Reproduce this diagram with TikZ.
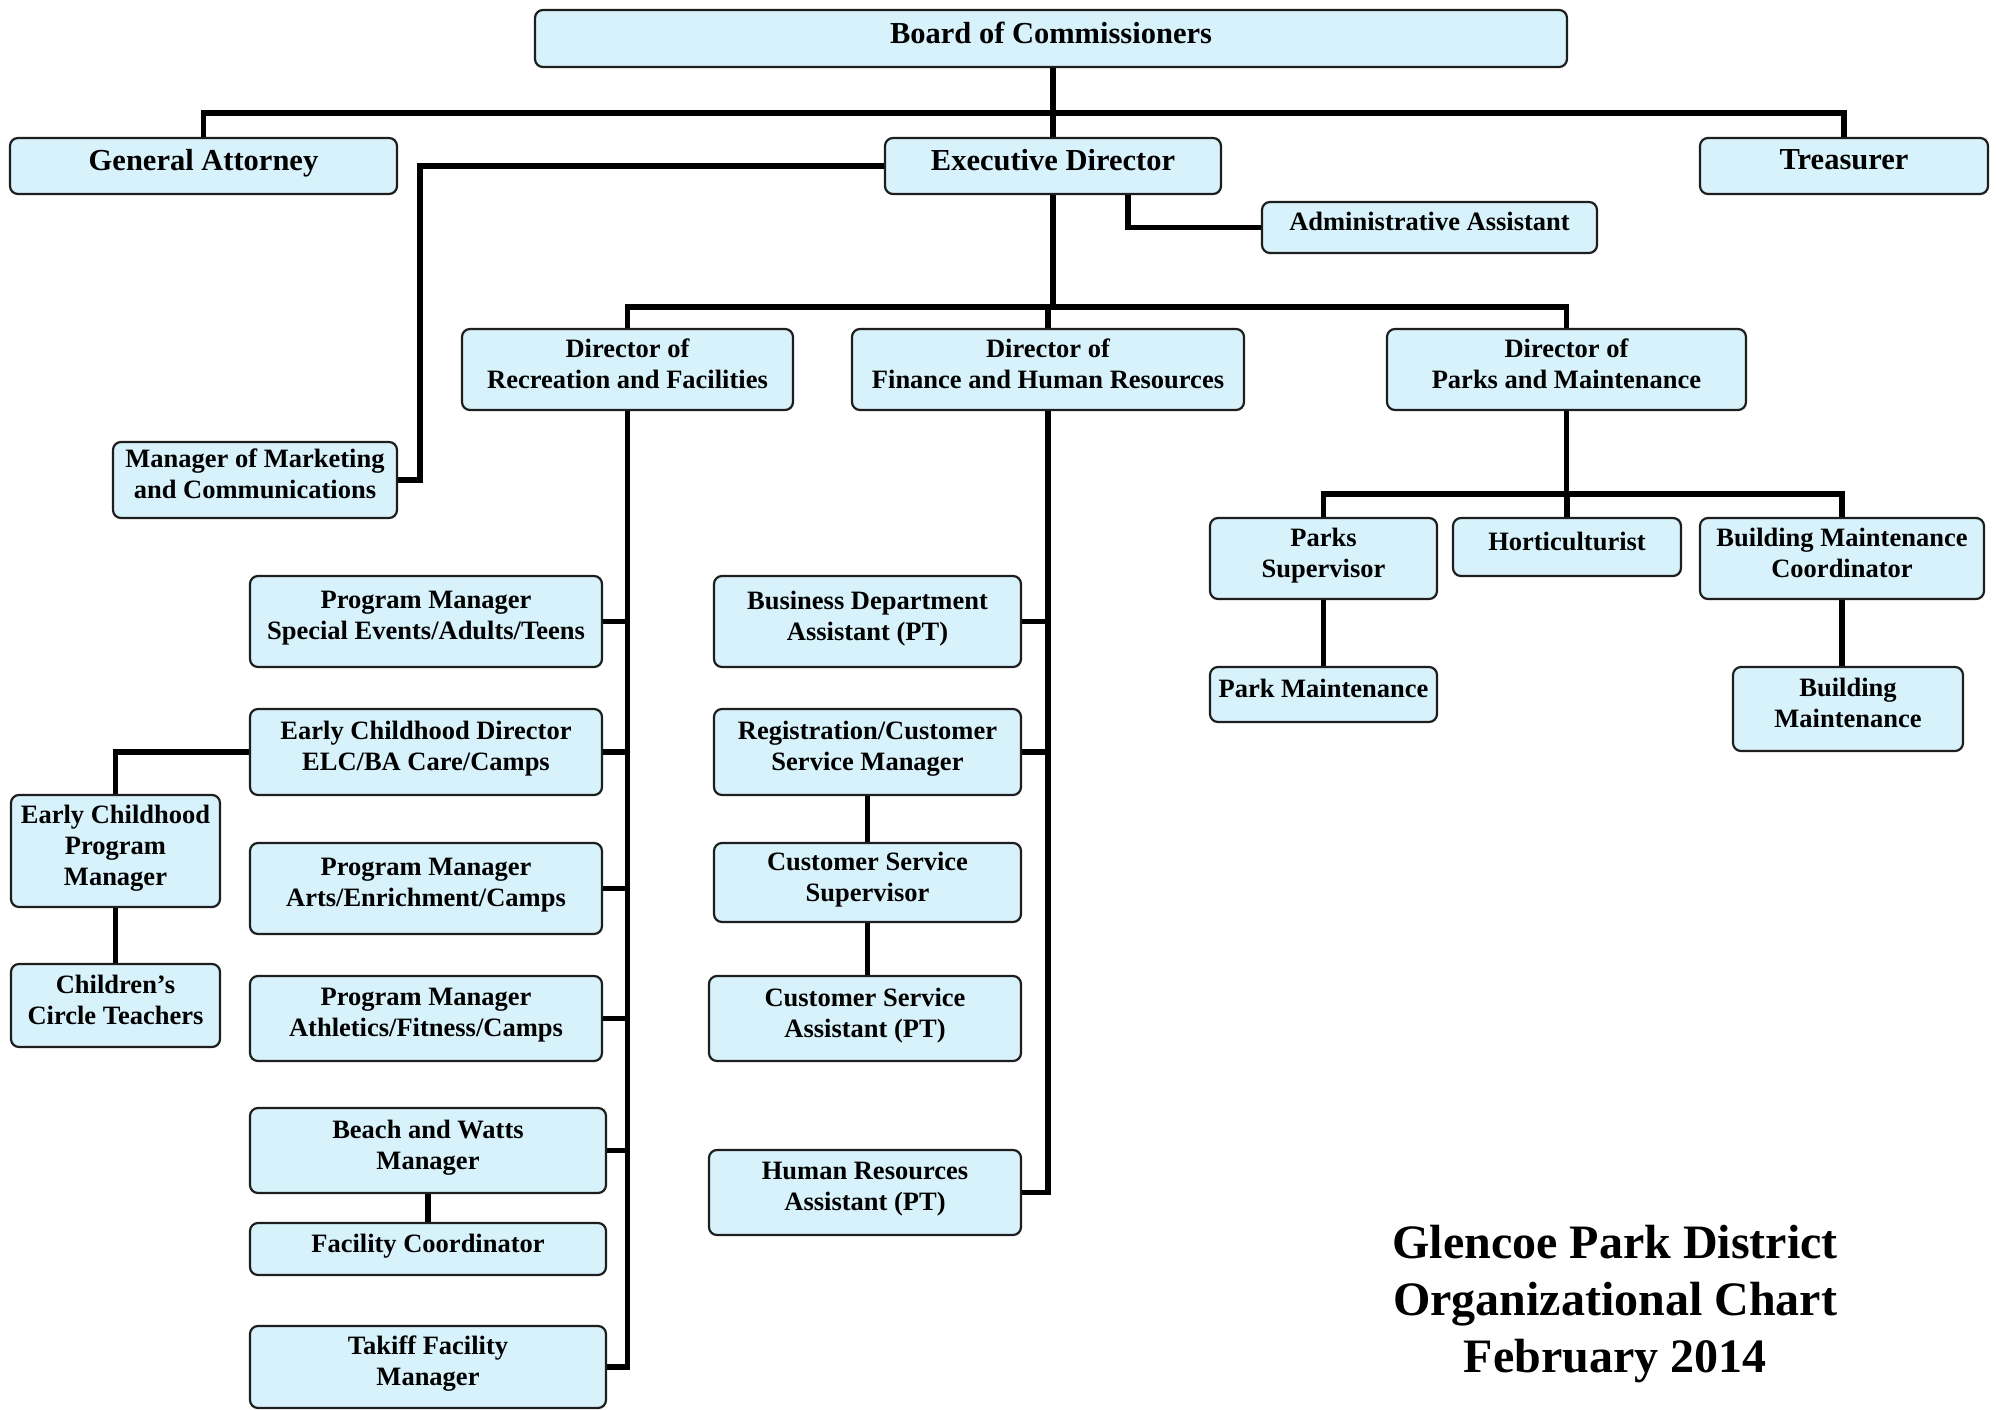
\documentclass[tikz,border=0pt]{standalone}
\usepackage{fontspec}
\setmainfont{Liberation Serif}
\usetikzlibrary{positioning}
\definecolor{CBox}{RGB}{215,242,250}
\definecolor{CEdge}{RGB}{30,30,30}

\begin{document}
\begin{tikzpicture}[x=1pt, y=-1pt,
    box/.style={draw=CEdge, line width=2.2pt, fill=CBox, rounded corners=8pt, align=center, inner sep=0pt,
        text depth=12pt, font=\fontsize{26.5}{31}\selectfont\bfseries},
    bigbox/.style={box, font=\fontsize{30.5}{36}\selectfont\bfseries},
    link/.style={line width=5.5pt, black}]
    \useasboundingbox (0,0) rectangle (1997,1410);

    % Top
    \node[bigbox, minimum width=1032, minimum height=57] (board) at (1051,38.5) {Board of Commissioners};
    \node[bigbox, minimum width=387, minimum height=56] (attorney) at (203.5,166) {General Attorney};
    \node[bigbox, minimum width=336, minimum height=56] (exec) at (1053,166) {Executive Director};
    \node[bigbox, minimum width=288, minimum height=56] (treasurer) at (1844,166) {Treasurer};
    \node[box, minimum width=335, minimum height=51] (admin) at (1429.5,227.5) {Administrative Assistant};
    \node[box, minimum width=284, minimum height=76] (marketing) at (255,480) {Manager of Marketing\\and Communications};

    % Directors
    \node[box, minimum width=331, minimum height=81] (dirrec) at (627.5,369.5) {Director of\\Recreation and Facilities};
    \node[box, minimum width=392, minimum height=81] (dirfin) at (1048,369.5) {Director of\\Finance and Human Resources};
    \node[box, minimum width=359, minimum height=81] (dirpark) at (1566.5,369.5) {Director of\\Parks and Maintenance};

    % Parks and Maintenance
    \node[box, minimum width=227, minimum height=81] (parksup) at (1323.5,558.5) {Parks\\Supervisor};
    \node[box, minimum width=228, minimum height=58] (hort) at (1567,547) {Horticulturist};
    \node[box, minimum width=284, minimum height=81] (bmc) at (1842,558.5) {Building Maintenance\\Coordinator};
    \node[box, minimum width=227, minimum height=55] (parkmaint) at (1323.5,694.5) {Park Maintenance};
    \node[box, minimum width=230, minimum height=84] (bldgmaint) at (1848,709) {Building\\Maintenance};

    % Recreation and Facilities
    \node[box, minimum width=352, minimum height=91] (pmse) at (426,621.5) {Program Manager\\Special Events/Adults/Teens};
    \node[box, minimum width=352, minimum height=86] (ecd) at (426,752) {Early Childhood Director\\ELC/BA Care/Camps};
    \node[box, minimum width=352, minimum height=91] (pmarts) at (426,888.5) {Program Manager\\Arts/Enrichment/Camps};
    \node[box, minimum width=352, minimum height=85] (pmath) at (426,1018.5) {Program Manager\\Athletics/Fitness/Camps};
    \node[box, minimum width=356, minimum height=85] (beach) at (428,1150.5) {Beach and Watts\\Manager};
    \node[box, minimum width=356, minimum height=52] (faccoord) at (428,1249) {Facility Coordinator};
    \node[box, minimum width=356, minimum height=82] (takiff) at (428,1367) {Takiff Facility\\Manager};
    \node[box, minimum width=209, minimum height=112] (ecpm) at (115.5,851) {Early Childhood\\Program\\Manager};
    \node[box, minimum width=209, minimum height=83] (cct) at (115.5,1005.5) {Children’s\\Circle Teachers};

    % Finance and Human Resources
    \node[box, minimum width=307, minimum height=91] (bda) at (867.5,621.5) {Business Department\\Assistant (PT)};
    \node[box, minimum width=307, minimum height=86] (reg) at (867.5,752) {Registration/Customer\\Service Manager};
    \node[box, minimum width=307, minimum height=79] (css) at (867.5,882.5) {Customer Service\\Supervisor};
    \node[box, minimum width=312, minimum height=85] (csa) at (865,1018.5) {Customer Service\\Assistant (PT)};
    \node[box, minimum width=312, minimum height=85] (hra) at (865,1192.5) {Human Resources\\Assistant (PT)};

    % Title
    \node[font=\fontsize{48}{57}\selectfont\bfseries, align=center] (title) at (1615,1304)
        {Glencoe Park District\\Organizational Chart\\February 2014};

    % Lines
    \coordinate (bus1) at (1052,113);
    \coordinate (bus2) at (1052,307);
    \coordinate (bus3) at (1567,494);
    \coordinate (mktline) at (420,300);
    \draw[link] (board.south -| exec.north) -- (exec.north);
    \draw[link] (attorney.north) |- (bus1) -| (treasurer.north);
    \draw[link] ([xshift=75pt]exec.south) |- (admin.west);
    \draw[link] (exec.west) -| (mktline) |- (marketing.east);
    \draw[link] (exec.south) -- (exec.south |- bus2);
    \draw[link] (dirrec.north) |- (bus2) -| (dirpark.north);
    \draw[link] (dirfin.north) -- (dirfin.north |- bus2);

    \draw[link] (dirpark.south) -- (dirpark.south |- bus3);
    \draw[link] (parksup.north) |- (bus3) -| (bmc.north);
    \draw[link] (hort.north) -- (hort.north |- bus3);
    \draw[link] (parksup.south) -- (parkmaint.north);
    \draw[link] (bmc.south) -- (bmc.south |- bldgmaint.north);

    \draw[link] (dirrec.south) |- (takiff.east);
    \draw[link] (pmse.east) -- (pmse.east -| dirrec.south);
    \draw[link] (ecd.east) -- (ecd.east -| dirrec.south);
    \draw[link] (pmarts.east) -- (pmarts.east -| dirrec.south);
    \draw[link] (pmath.east) -- (pmath.east -| dirrec.south);
    \draw[link] (beach.east) -- (beach.east -| dirrec.south);
    \draw[link] (beach.south) -- (faccoord.north);
    \draw[link] (ecd.west) -| (ecpm.north);
    \draw[link] (ecpm.south) -- (cct.north);

    \draw[link] (dirfin.south) |- (hra.east);
    \draw[link] (bda.east) -- (bda.east -| dirfin.south);
    \draw[link] (reg.east) -- (reg.east -| dirfin.south);
    \draw[link] (reg.south) -- (css.north);
    \draw[link] (css.south) -- (css.south |- csa.north);
\end{tikzpicture}
\end{document}
